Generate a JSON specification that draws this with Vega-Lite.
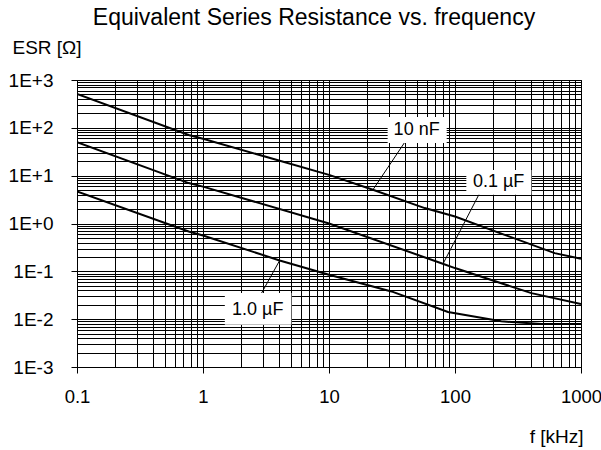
{
  "$schema": "https://vega.github.io/schema/vega-lite/v6.json",
  "autosize": {"type": "none"},
  "width": 504,
  "height": 287,
  "padding": {"left": 77, "top": 80, "right": 20, "bottom": 83},
  "background": "white",
  "title": {
    "text": "Equivalent Series Resistance vs. frequency",
    "font": "Liberation Sans",
    "fontSize": 23,
    "fontWeight": "normal",
    "color": "black",
    "anchor": "middle",
    "frame": "group",
    "baseline": "alphabetic",
    "offset": -10,
    "dx": -15
  },
  "config": {
    "view": {"stroke": "black", "strokeWidth": 1},
    "axis": {
      "labelFont": "Liberation Sans",
      "labelFontSize": 19,
      "labelColor": "black",
      "titleFont": "Liberation Sans",
      "titleFontSize": 19,
      "titleFontWeight": "normal",
      "titleColor": "black",
      "domain": false,
      "tickSize": 6,
      "tickColor": "black",
      "gridWidth": 1,
      "gridColor": "black",
      "gridOpacity": 1,
      "labelOverlap": false,
      "labelBound": false,
      "labelFlush": false
    }
  },
  "datasets": {
    "curves": [
      {"series": "10 nF", "f": 0.1, "esr": 510},
      {"series": "10 nF", "f": 0.77, "esr": 71},
      {"series": "10 nF", "f": 1, "esr": 59},
      {"series": "10 nF", "f": 10, "esr": 10.4},
      {"series": "10 nF", "f": 22.3, "esr": 5.06},
      {"series": "10 nF", "f": 57.5, "esr": 2.1},
      {"series": "10 nF", "f": 100, "esr": 1.4},
      {"series": "10 nF", "f": 248, "esr": 0.58},
      {"series": "10 nF", "f": 618, "esr": 0.24},
      {"series": "10 nF", "f": 1000, "esr": 0.183},
      {"series": "0.1 µF", "f": 0.1, "esr": 50},
      {"series": "0.1 µF", "f": 0.77, "esr": 7.0},
      {"series": "0.1 µF", "f": 1, "esr": 5.9},
      {"series": "0.1 µF", "f": 10, "esr": 1.0},
      {"series": "0.1 µF", "f": 80, "esr": 0.144},
      {"series": "0.1 µF", "f": 100, "esr": 0.117},
      {"series": "0.1 µF", "f": 404, "esr": 0.035},
      {"series": "0.1 µF", "f": 1000, "esr": 0.0207},
      {"series": "1.0 µF", "f": 0.1, "esr": 4.7},
      {"series": "1.0 µF", "f": 0.77, "esr": 0.68},
      {"series": "1.0 µF", "f": 1, "esr": 0.56},
      {"series": "1.0 µF", "f": 4.06, "esr": 0.169},
      {"series": "1.0 µF", "f": 10, "esr": 0.085},
      {"series": "1.0 µF", "f": 31.3, "esr": 0.038},
      {"series": "1.0 µF", "f": 88, "esr": 0.0141},
      {"series": "1.0 µF", "f": 233, "esr": 0.009},
      {"series": "1.0 µF", "f": 485, "esr": 0.0079},
      {"series": "1.0 µF", "f": 1000, "esr": 0.0079}
    ],
    "leaders": [
      {"series": "10 nF", "f": 43.7, "esr": 71.1, "f2": 22.3, "esr2": 5.06},
      {"series": "0.1 µF", "f": 167, "esr": 5.92, "f2": 80.4, "esr2": 0.144},
      {"series": "1.0 µF", "f": 2.82, "esr": 0.0299, "f2": 4.06, "esr2": 0.169}
    ],
    "boxes": [
      {"series": "10 nF", "f": 29.2, "f2": 85.9, "esr": 169, "esr2": 48.4},
      {"series": "0.1 µF", "f": 123, "f2": 404, "esr": 13.2, "esr2": 3.97},
      {"series": "1.0 µF", "f": 1.49, "f2": 5.03, "esr": 0.0352, "esr2": 0.00767}
    ],
    "labels": [
      {"series": "10 nF", "f": 49.6, "esr": 90.3},
      {"series": "0.1 µF", "f": 222, "esr": 7.24},
      {"series": "1.0 µF", "f": 2.72, "esr": 0.0158}
    ]
  },
  "encoding": {
    "x": {
      "field": "f",
      "type": "quantitative",
      "scale": {"type": "log", "domain": [0.1, 1000], "nice": false},
      "axis": {
        "title": "f [kHz]",
        "titleAnchor": "end",
        "titleAlign": "right",
        "titleBaseline": "alphabetic",
        "titleX": 506,
        "titleY": 75,
        "values": [0.1,0.2,0.3,0.4,0.5,0.6,0.7,0.8,0.9,1,2,3,4,5,6,7,8,9,10,20,30,40,50,60,70,80,90,100,200,300,400,500,600,700,800,900,1000],
        "labelExpr": "abs(log(datum.value)/LN10 - round(log(datum.value)/LN10)) < 0.01 ? format(datum.value, '~g') : ''",
        "labelFontSize": 18.5,
        "labelPadding": 14,
        "labelDx": -3,
        "tickOpacity": {"condition": {"test": "abs(log(datum.value)/LN10 - round(log(datum.value)/LN10)) < 0.01", "value": 1}, "value": 0}
      }
    },
    "y": {
      "field": "esr",
      "type": "quantitative",
      "scale": {"type": "log", "domain": [0.001, 1000], "nice": false},
      "axis": {
        "title": "ESR [Ω]",
        "titleAngle": 0,
        "titleAlign": "left",
        "titleBaseline": "alphabetic",
        "titleX": -65,
        "titleY": -27,
        "values": [0.001,0.002,0.003,0.004,0.005,0.006,0.007,0.008,0.009,0.01,0.02,0.03,0.04,0.05,0.06,0.07,0.08,0.09,0.1,0.2,0.3,0.4,0.5,0.6,0.7,0.8,0.9,1,2,3,4,5,6,7,8,9,10,20,30,40,50,60,70,80,90,100,200,300,400,500,600,700,800,900,1000],
        "labelExpr": "abs(log(datum.value)/LN10 - round(log(datum.value)/LN10)) < 0.01 ? '1E' + (round(log(datum.value)/LN10) >= 0 ? '+' : '-') + abs(round(log(datum.value)/LN10)) : ''",
        "labelPadding": 18,
        "tickOpacity": {"condition": {"test": "abs(log(datum.value)/LN10 - round(log(datum.value)/LN10)) < 0.01", "value": 1}, "value": 0}
      }
    }
  },
  "layer": [
    {
      "data": {"name": "curves"},
      "mark": {"type": "line", "color": "black", "strokeWidth": 2, "clip": true},
      "encoding": {"detail": {"field": "series"}}
    },
    {
      "data": {"name": "leaders"},
      "mark": {"type": "rule", "color": "black", "strokeWidth": 1},
      "encoding": {
        "x2": {"field": "f2"},
        "y2": {"field": "esr2"}
      }
    },
    {
      "data": {"name": "boxes"},
      "mark": {"type": "rect", "color": "white", "opacity": 1},
      "encoding": {
        "x2": {"field": "f2"},
        "y2": {"field": "esr2"}
      }
    },
    {
      "data": {"name": "labels"},
      "mark": {"type": "text", "font": "Liberation Sans", "fontSize": 18, "color": "black", "align": "center", "baseline": "middle"},
      "encoding": {"text": {"field": "series"}}
    }
  ]
}
